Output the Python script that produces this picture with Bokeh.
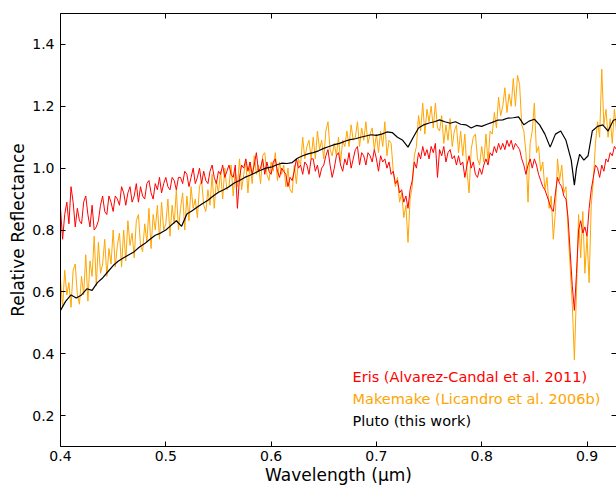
from bokeh.plotting import figure
from bokeh.models import Range1d, LinearAxis, FixedTicker, Label, PrintfTickFormatter
from bokeh.embed import file_html
from bokeh.resources import INLINE

# ---------------- data ----------------
# wavelength grid of the Eris / Makemake spectra, in nm
wl_fine = [400, 402, 404, 406, 408, 410, 412, 414, 416, 418,
           420, 422, 424, 426, 428, 430, 432, 434, 436, 438,
           440, 442, 444, 446, 448, 450, 452, 454, 456, 458,
           460, 462, 464, 466, 468, 470, 472, 474, 476, 478,
           480, 482, 484, 486, 488, 490, 492, 494, 496, 498,
           500, 502, 504, 506, 508, 510, 512, 514, 516, 518,
           520, 522, 524, 526, 528, 530, 532, 534, 536, 538,
           540, 542, 544, 546, 548, 550, 552, 554, 556, 558,
           560, 562, 564, 566, 568, 570, 572, 574, 576, 578,
           580, 582, 584, 586, 588, 590, 592, 594, 596, 598,
           600, 602, 604, 606, 608, 610, 612, 614, 616, 618,
           620, 622, 624, 626, 628, 630, 632, 634, 636, 638,
           640, 642, 644, 646, 648, 650, 652, 654, 656, 658,
           660, 662, 664, 666, 668, 670, 672, 674, 676, 678,
           680, 682, 684, 686, 688, 690, 692, 694, 696, 698,
           700, 702, 704, 706, 708, 710, 712, 714, 716, 718,
           720, 722, 724, 726, 728, 730, 732, 734, 736, 738,
           740, 742, 744, 746, 748, 750, 752, 754, 756, 758,
           760, 762, 764, 766, 768, 770, 772, 774, 776, 778,
           780, 782, 784, 786, 788, 790, 792, 794, 796, 798,
           800, 802, 804, 806, 808, 810, 812, 814, 816, 818,
           820, 822, 824, 826, 828, 830, 832, 834, 836, 838,
           840, 842, 844, 846, 848, 850, 852, 854, 856, 858,
           860, 862, 864, 866, 868, 870, 872, 874, 876, 878,
           880, 882, 884, 886, 888, 890, 892, 894, 896, 898,
           900, 902, 904, 906, 908, 910, 912, 914, 916, 918,
           920, 922, 924, 926, 928, 930]

makemake = [0.64, 0.55, 0.67, 0.59, 0.63, 0.55, 0.67, 0.69, 0.59, 0.56,
            0.65, 0.59, 0.72, 0.57, 0.70, 0.65, 0.78, 0.62, 0.76, 0.66,
            0.69, 0.77, 0.65, 0.74, 0.69, 0.80, 0.68, 0.75, 0.79, 0.68,
            0.80, 0.70, 0.83, 0.75, 0.79, 0.71, 0.83, 0.85, 0.75, 0.73,
            0.82, 0.76, 0.87, 0.74, 0.85, 0.80, 0.88, 0.77, 0.89, 0.80,
            0.82, 0.90, 0.78, 0.88, 0.82, 0.93, 0.80, 0.87, 0.92, 0.80,
            0.91, 0.83, 0.94, 0.87, 0.90, 0.84, 0.94, 0.96, 0.88, 0.86,
            0.93, 0.88, 0.98, 0.87, 0.96, 0.92, 0.99, 0.90, 1.00, 0.93,
            0.94, 1.01, 0.91, 0.99, 0.94, 1.03, 0.93, 0.98, 1.02, 0.92,
            1.02, 0.95, 1.04, 0.98, 1.01, 0.95, 1.04, 1.05, 0.98, 0.96,
            1.02, 0.99, 1.05, 0.96, 1.02, 0.98, 1.01, 0.94, 1.00, 0.93,
            0.92, 1.01, 0.95, 1.03, 1.01, 1.10, 1.03, 1.07, 1.09, 1.03,
            1.10, 1.03, 1.12, 1.06, 1.09, 1.03, 1.12, 1.15, 1.06, 1.04,
            1.08, 1.04, 1.10, 1.02, 1.09, 1.07, 1.12, 1.07, 1.14, 1.09,
            1.10, 1.15, 1.07, 1.13, 1.09, 1.15, 1.08, 1.11, 1.13, 1.06,
            1.11, 1.05, 1.12, 1.07, 1.15, 1.04, 1.09, 1.08, 0.99, 0.94,
            0.97, 0.89, 0.92, 0.84, 0.88, 0.76, 0.90, 0.94, 1.04, 1.07,
            1.17, 1.12, 1.21, 1.11, 1.19, 1.15, 1.20, 1.13, 1.21, 1.13,
            1.12, 1.17, 1.08, 1.14, 1.09, 1.16, 1.07, 1.12, 1.14, 1.05,
            1.12, 1.04, 1.11, 0.99, 0.92, 1.06, 1.10, 1.11, 1.03, 1.01,
            1.07, 1.02, 1.11, 1.02, 1.12, 1.11, 1.18, 1.13, 1.23, 1.17,
            1.20, 1.26, 1.18, 1.24, 1.20, 1.29, 1.20, 1.30, 1.27, 1.14,
            1.12, 1.05, 0.89, 1.08, 1.12, 1.21, 1.05, 1.07, 0.99, 1.02,
            0.93, 0.97, 0.87, 0.91, 0.77, 0.86, 1.03, 0.96, 1.01, 0.92,
            0.94, 0.80, 0.68, 0.56, 0.38, 0.60, 0.85, 0.71, 0.86, 0.66,
            0.78, 0.63, 0.88, 0.96, 1.08, 1.15, 1.10, 1.32, 1.14, 1.19,
            1.10, 1.16, 1.08, 1.19, 1.12, 1.17]

eris = [0.87, 0.77, 0.85, 0.89, 0.82, 0.94, 0.89, 0.81, 0.87, 0.83,
        0.82, 0.89, 0.91, 0.85, 0.81, 0.88, 0.80, 0.81, 0.83, 0.88,
        0.91, 0.86, 0.85, 0.91, 0.89, 0.86, 0.91, 0.90, 0.88, 0.94,
        0.92, 0.88, 0.92, 0.94, 0.89, 0.91, 0.95, 0.89, 0.94, 0.91,
        0.90, 0.95, 0.96, 0.92, 0.90, 0.95, 0.93, 0.97, 0.92, 0.95,
        0.97, 0.94, 0.93, 0.97, 0.96, 0.93, 0.97, 0.97, 0.95, 0.99,
        0.98, 0.94, 0.97, 1.00, 0.95, 0.97, 1.00, 0.95, 0.99, 0.96,
        0.95, 0.99, 1.01, 0.97, 0.95, 0.99, 0.98, 1.01, 0.97, 0.99,
        1.01, 0.98, 0.97, 1.01, 0.87, 0.97, 1.01, 1.00, 1.03, 0.99,
        1.02, 0.98, 1.01, 1.05, 0.99, 1.00, 1.03, 0.98, 1.02, 0.99,
        0.98, 1.02, 1.03, 0.99, 0.97, 1.00, 0.99, 0.98, 0.94, 0.97,
        0.96, 0.99, 1.03, 1.00, 1.01, 0.98, 1.02, 1.01, 0.98, 1.03,
        1.03, 0.99, 1.01, 0.97, 1.00, 1.01, 1.04, 1.06, 1.01, 0.97,
        1.00, 1.04, 1.05, 1.01, 0.99, 1.03, 1.01, 1.05, 1.00, 1.03,
        1.06, 1.07, 1.01, 1.05, 1.04, 1.01, 1.05, 1.04, 1.02, 1.06,
        1.03, 0.99, 1.04, 1.02, 1.03, 1.00, 1.02, 0.98, 0.99, 0.95,
        0.96, 0.92, 0.93, 0.89, 0.91, 0.87, 0.93, 0.96, 1.02, 1.00,
        1.05, 1.03, 1.07, 1.04, 1.06, 1.03, 1.07, 1.05, 1.08, 0.97,
        1.06, 1.04, 1.07, 1.02, 1.05, 1.06, 1.03, 1.04, 1.01, 1.04,
        1.01, 1.02, 0.97, 1.01, 1.04, 1.00, 1.02, 0.98, 0.97, 1.00,
        0.98, 1.01, 1.03, 1.01, 1.05, 1.04, 1.07, 1.05, 1.08, 1.06,
        1.08, 1.06, 1.09, 1.07, 1.09, 1.06, 1.08, 1.07, 1.06, 1.03,
        1.01, 0.98, 1.01, 1.03, 1.00, 1.03, 1.01, 0.98, 0.96, 0.94,
        0.93, 0.91, 0.89, 0.87, 0.86, 0.92, 0.97, 0.95, 0.94, 0.91,
        0.90, 0.84, 0.73, 0.62, 0.54, 0.66, 0.80, 0.83, 0.79, 0.81,
        0.78, 0.87, 0.93, 0.97, 1.01, 1.00, 0.97, 1.01, 0.99, 1.03,
        1.02, 1.05, 1.04, 1.07, 1.06, 1.08]

# wavelength grid of the Pluto spectrum, in nm
wl_pluto = [400, 405, 410, 415, 420, 425, 430, 435, 440, 445,
            450, 455, 460, 465, 470, 475, 480, 485, 490, 495,
            500, 505, 510, 515, 520, 525, 530, 535, 540, 545,
            550, 555, 560, 565, 570, 575, 580, 585, 590, 595,
            600, 605, 610, 615, 620, 625, 630, 635, 640, 645,
            650, 655, 660, 665, 670, 675, 680, 685, 690, 695,
            700, 705, 710, 715, 720, 725, 730, 735, 740, 745,
            750, 755, 760, 765, 770, 775, 780, 785, 790, 795,
            800, 805, 810, 815, 820, 825, 830, 835, 840, 845,
            850, 855, 860, 865, 870, 875, 880, 885, 888, 890,
            893, 897, 901, 905, 910, 915, 920, 925, 930]

pluto = [0.54, 0.57, 0.59, 0.58, 0.59, 0.61, 0.605, 0.63, 0.645, 0.665,
         0.685, 0.70, 0.71, 0.72, 0.73, 0.745, 0.756, 0.77, 0.783, 0.79,
         0.80, 0.815, 0.83, 0.812, 0.852, 0.862, 0.874, 0.886, 0.896, 0.91,
         0.922, 0.93, 0.94, 0.952, 0.96, 0.97, 0.977, 0.985, 0.993, 1.0,
         1.003, 1.01, 1.016, 1.015, 1.018, 1.032, 1.04, 1.046, 1.05, 1.056,
         1.064, 1.07, 1.076, 1.08, 1.087, 1.092, 1.095, 1.1, 1.104, 1.108,
         1.106, 1.11, 1.117, 1.115, 1.10, 1.09, 1.068, 1.10, 1.13, 1.14,
         1.146, 1.15, 1.156, 1.15, 1.145, 1.15, 1.142, 1.14, 1.13, 1.138,
         1.135, 1.142, 1.148, 1.155, 1.156, 1.162, 1.163, 1.166, 1.14, 1.152,
         1.158, 1.14, 1.11, 1.068, 1.11, 1.12, 1.09, 1.026, 0.945, 1.00,
         1.045, 1.026, 1.04, 1.12, 1.135, 1.14, 1.12, 1.155, 1.16]

x_ticks = [0.4, 0.5, 0.6, 0.7, 0.8, 0.9]
y_ticks = [0.2, 0.4, 0.6, 0.8, 1.0, 1.2, 1.4]

series_names = ["Eris (Alvarez-Candal et al. 2011)",
                "Makemake (Licandro et al. 2006b)",
                "Pluto (this work)"]
series_colors = ["#ff0000", "#ffa500", "#000000"]

# ---------------- figure ----------------
FONT = "DejaVu Sans"

p = figure(width=616, height=488, output_backend="svg", toolbar_location=None,
           x_range=Range1d(0.4, 0.928), y_range=Range1d(0.1, 1.5),
           x_axis_label="Wavelength (μm)", y_axis_label="Relative Reflectance",
           min_border_left=60, min_border_right=0, min_border_top=13,
           min_border_bottom=42, background_fill_color="white",
           border_fill_color="white")
p.outline_line_color = None
p.grid.visible = False

def style_axis(ax, ticks, show_labels=True, show_line=True):
    ax.ticker = FixedTicker(ticks=ticks)
    ax.formatter = PrintfTickFormatter(format="%.1f")
    ax.major_tick_in = 5
    ax.major_tick_out = 0
    ax.minor_tick_line_color = None
    ax.major_tick_line_color = "black"
    ax.major_tick_line_width = 1
    ax.axis_line_color = "black" if show_line else None
    ax.axis_line_width = 1
    if show_labels:
        ax.major_label_text_font = FONT
        ax.major_label_text_font_size = "14px"
        ax.major_label_text_color = "black"
    else:
        ax.major_label_text_color = None
        ax.major_label_text_font_size = "1px"
        ax.major_label_standoff = 0

style_axis(p.xaxis[0], x_ticks)
style_axis(p.yaxis[0], y_ticks)
p.xaxis[0].major_label_standoff = 4
p.yaxis[0].major_label_standoff = 6
for ax in (p.xaxis[0], p.yaxis[0]):
    ax.axis_label_text_font = FONT
    ax.axis_label_text_font_size = "17px"
    ax.axis_label_text_font_style = "normal"
    ax.axis_label_text_color = "black"
p.xaxis[0].axis_label_standoff = 1
p.yaxis[0].axis_label_standoff = 1

top_axis = LinearAxis()
style_axis(top_axis, x_ticks, show_labels=False)
p.add_layout(top_axis, "above")

right_axis = LinearAxis()
style_axis(right_axis, y_ticks, show_labels=False, show_line=False)
p.add_layout(right_axis, "right")

# ---------------- spectra ----------------
wl_f_um = [w / 1000.0 for w in wl_fine]
wl_p_um = [w / 1000.0 for w in wl_pluto]

p.line(wl_f_um, makemake, line_color=series_colors[1], line_width=1)
p.line(wl_f_um, eris, line_color=series_colors[0], line_width=1)
p.line(wl_p_um, pluto, line_color=series_colors[2], line_width=1.2)

# ---------------- text legend ----------------
legend_y = [0.325, 0.253, 0.182]
for name, col, yy in zip(series_names, series_colors, legend_y):
    p.add_layout(Label(x=0.6773, y=yy, text=name, text_color=col,
                       text_font=FONT, text_font_size="14.5px",
                       text_baseline="middle", text_align="left"))

open("out.html", "w").write(file_html(p, INLINE))
